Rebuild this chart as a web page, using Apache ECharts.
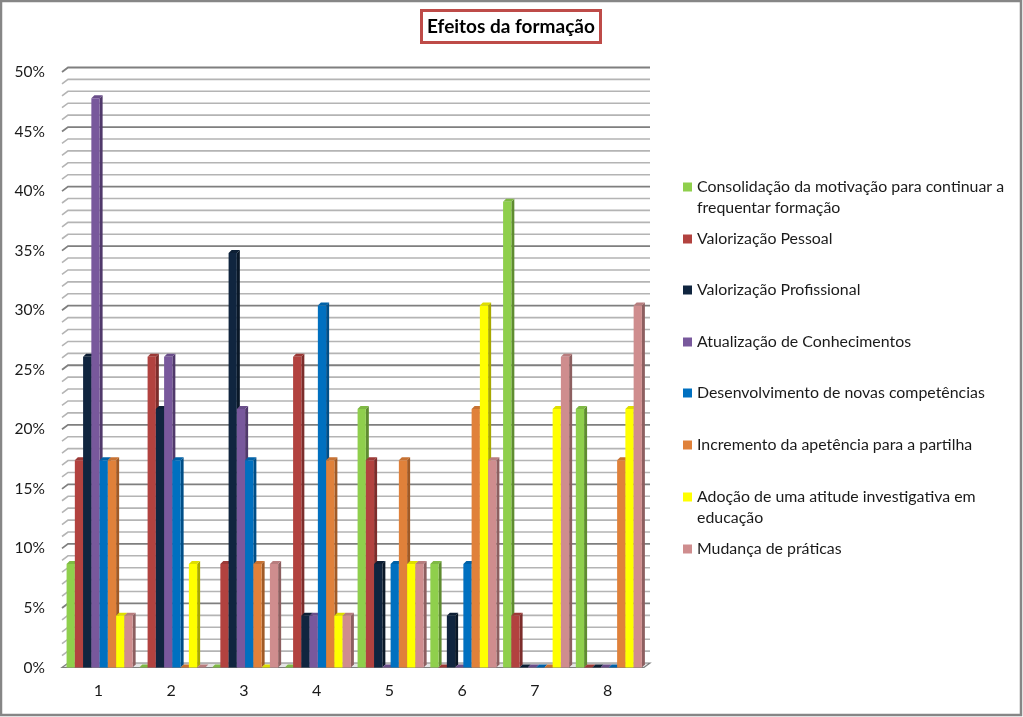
<!DOCTYPE html>
<html><head><meta charset="utf-8">
<style>html,body{margin:0;padding:0;background:#fff}#c{width:1023px;height:717px}</style>
<script src="https://cdn.jsdelivr.net/npm/echarts@6/dist/echarts.min.js"></script>
</head><body><div id="c"></div>
<script>
var categories = ['1','2','3','4','5','6','7','8'];
var seriesNames = [
  'Consolidação da motivação para continuar a\nfrequentar formação',
  'Valorização Pessoal',
  'Valorização Profissional',
  'Atualização de Conhecimentos',
  'Desenvolvimento de novas competências',
  'Incremento da apetência para a partilha',
  'Adoção de uma atitude investigativa em\neducação',
  'Mudança de práticas'
];
var consolidacao   = [8.7, 0, 0, 0, 21.7, 8.7, 39.1, 21.7];
var pessoal        = [17.4, 26.1, 8.7, 26.1, 17.4, 0, 4.35, 0];
var profissional   = [26.1, 21.7, 34.8, 4.35, 8.7, 4.35, 0, 0];
var atualizacao    = [47.8, 26.1, 21.7, 4.35, 0, 0, 0, 0];
var desenvolvimento= [17.4, 17.4, 17.4, 30.4, 8.7, 8.7, 0, 0];
var incremento     = [17.4, 0, 8.7, 17.4, 17.4, 21.7, 0, 17.4];
var adocao         = [4.35, 8.7, 0, 4.35, 8.7, 30.4, 21.7, 21.7];
var mudanca        = [4.35, 0, 8.7, 4.35, 8.7, 17.4, 26.1, 30.4];
var allValues = [consolidacao, pessoal, profissional, atualizacao, desenvolvimento, incremento, adocao, mudanca];
var colors = ['#8fcf4c','#b2423f','#10253f','#78589c','#0070c0','#e0813a','#ffff00','#cf8d8e'];
var sideColors = ['#5f8c30','#7c2d2b','#0a1828','#50396b','#004e87','#a05a26','#a8a800','#8d5f60'];
var topColors = ['#7fb944','#9c3a37','#0d1f35','#6a4e8a','#0062a8','#c77233','#dede00','#b87d7e'];
var gridTicks = [];
for (var t = 0; t <= 50; t++) gridTicks.push(t);
var legendTops = [155.5, 228.5, 279.5, 331.5, 382.5, 434.5, 465.5, 538.5];
var FONT = 'Lato';
var WALL_DX = 6, WALL_DY = 4.5, BAR_DX = 3, BAR_DY = 3;

function wallSeries() {
  return {
    type: 'custom', silent: true, z: 1, legendHoverLink: false,
    data: gridTicks.map(function (v) { return [0, v]; }),
    encode: { x: 0, y: 1 },
    renderItem: function (params, api) {
      var v = api.value(1);
      var band = api.size([1, 0])[0];
      var p0 = api.coord([0, v]);
      var x0 = p0[0] - band / 2, x1 = x0 + band * categories.length, y = p0[1];
      var major = v % 5 === 0;
      var children = [];
      if (v === 0) {
        children.push({ type: 'polygon',
          shape: { points: [[x0, y], [x1, y], [x1 + WALL_DX, y - WALL_DY], [x0 + WALL_DX, y - WALL_DY]] },
          style: { fill: '#e4e4e4', stroke: '#7f7f7f', lineWidth: 1.2 } });
      } else {
        children.push({ type: 'polyline',
          shape: { points: [[x0, y], [x0 + WALL_DX, y - WALL_DY], [x1 + WALL_DX, y - WALL_DY]] },
          style: { fill: 'none', stroke: major ? '#7f7f7f' : '#b4b4b4', lineWidth: major ? 1.8 : 1.6 } });
      }
      return { type: 'group', children: children };
    }
  };
}
function barSeries(idx) {
  return {
    type: 'custom', name: seriesNames[idx], z: 2 + idx,
    itemStyle: { color: colors[idx] },
    data: allValues[idx].map(function (v, i) { return [i, v]; }),
    encode: { x: 0, y: 1 },
    renderItem: function (params, api) {
      var i = api.value(0), v = api.value(1);
      var band = api.size([1, 0])[0];
      var w = band * 0.1135;
      var c = api.coord([i, v]), b = api.coord([i, 0]);
      var x = c[0] - band * 0.437 + idx * w;
      var yt = c[1], yb = b[1];
      return { type: 'group', children: [
        { type: 'polygon', shape: { points: [[x + w, yt], [x + w + BAR_DX, yt - BAR_DY], [x + w + BAR_DX, yb - BAR_DY], [x + w, yb]] },
          style: { fill: sideColors[idx] } },
        { type: 'polygon', shape: { points: [[x, yt], [x + BAR_DX, yt - BAR_DY], [x + w + BAR_DX, yt - BAR_DY], [x + w, yt]] },
          style: { fill: topColors[idx] } },
        { type: 'rect', shape: { x: x, y: yt, width: w, height: Math.max(yb - yt, 0) },
          style: { fill: colors[idx] } }
      ] };
    }
  };
}
var legends = seriesNames.map(function (n, i) {
  return {
    data: [n], orient: 'vertical', left: 683, top: legendTops[i], padding: 0,
    itemWidth: 9, itemHeight: 9, icon: 'rect', selectedMode: false,
    textStyle: { fontFamily: FONT, fontSize: 15.9, color: '#1a1a1a', lineHeight: 21 },
    formatter: function (name) { return name.indexOf('\n') >= 0 ? '\n' + name : name; }
  };
});
var chart = echarts.init(document.getElementById('c'), null, { renderer: 'canvas' });
chart.setOption({
  animation: false,
  backgroundColor: '#fff',
  title: {
    text: 'Efeitos da formação', left: 421, top: 10,
    padding: [7, 6, 7, 6], borderColor: '#be4b48', borderWidth: 3, backgroundColor: '#fff',
    textStyle: { fontFamily: FONT, fontSize: 19, fontWeight: 'bold', color: '#000' }
  },
  legend: legends,
  grid: { left: 62, top: 72, width: 582, height: 595.5 },
  xAxis: {
    type: 'category', data: categories,
    axisLine: { show: false }, axisTick: { show: false },
    axisLabel: { margin: 15, fontFamily: FONT, fontSize: 16, color: '#1a1a1a' }
  },
  yAxis: {
    type: 'value', min: 0, max: 50, interval: 5,
    axisLine: { show: false }, axisTick: { show: false }, splitLine: { show: false },
    axisLabel: { margin: 17, fontFamily: FONT, fontSize: 15.5, color: '#1a1a1a', formatter: '{value}%', padding: [6, 0, 0, 0] }
  },
  graphic: [{ type: 'rect', silent: true, z: -1, shape: { x: 1, y: 1, width: 1020, height: 714 },
    style: { fill: 'none', stroke: '#868686', lineWidth: 2.5 } }],
  series: [wallSeries()].concat(allValues.map(function (_, i) { return barSeries(i); }))
});
</script></body></html>
